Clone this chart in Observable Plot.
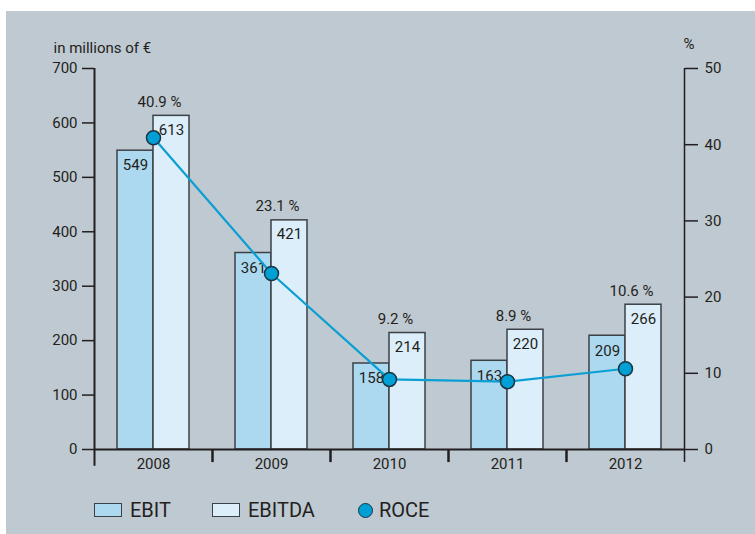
<!DOCTYPE html>
<html>
<head>
<meta charset="utf-8">
<script src="https://cdn.jsdelivr.net/npm/d3@7"></script>
<script src="https://cdn.jsdelivr.net/npm/@observablehq/plot@0.6"></script>
<style>
  html, body { margin: 0; padding: 0; background: #ffffff; }
  #wrap { position: absolute; left: 6px; top: 11px; width: 749px; height: 523px; background: #bfc9d1; font-family: Roboto, sans-serif; color: #231f20; }
  #chart { position: absolute; left: 0; top: 0; }
  .leg { position: absolute; top: 490px; height: 18px; display: flex; align-items: center; font-size: 20px; }
  .sw { width: 26px; height: 12px; border: 1.5px solid #3c4146; margin-right: 8px; }
  .dot { width: 13px; height: 13px; border-radius: 50%; background: #00a0d6; border: 1.5px solid #1b3440; margin-right: 6px; }
</style>
</head>
<body>
<div id="wrap">
  <div id="chart"></div>
  <div class="leg" style="left:88px"><div class="sw" style="background:#add9f0"></div>EBIT</div>
  <div class="leg" style="left:206px"><div class="sw" style="background:#dbeef9"></div>EBITDA</div>
  <div class="leg" style="left:352px"><div class="dot"></div>ROCE</div>
</div>
<script>
const years = ["2008", "2009", "2010", "2011", "2012"];
const ebit = [549, 361, 158, 163, 209];
const ebitda = [613, 421, 214, 220, 266];
const roce = [40.9, 23.1, 9.2, 8.9, 10.6];
const leftTicks = [0, 100, 200, 300, 400, 500, 600, 700];
const rightTicks = [0, 10, 20, 30, 40, 50];
const leftLabel = "in millions of €";
const rightLabel = "%";

const k = 700 / 50; // right-axis (percent) to left-axis (millions) conversion
const rows = years.map((year, i) => ({year, ebit: ebit[i], ebitda: ebitda[i], roce: roce[i], roceY: roce[i] * k}));
const ink = "#231f20";

const chart = Plot.plot({
  width: 749,
  height: 480,
  marginLeft: 88,
  marginRight: 71,
  marginTop: 57,
  marginBottom: 42,
  style: {fontFamily: "Roboto, sans-serif", fontSize: "15px", color: ink, background: "transparent", overflow: "visible"},
  x: {type: "band", domain: years, paddingInner: 0, paddingOuter: 0},
  y: {domain: [0, 700]},
  marks: [
    Plot.barY(rows, {x: "year", y: "ebit", fill: "#add9f0", stroke: "#3c4146", strokeWidth: 1.5, insetLeft: 23, insetRight: 59}),
    Plot.barY(rows, {x: "year", y: "ebitda", fill: "#dbeef9", stroke: "#3c4146", strokeWidth: 1.5, insetLeft: 59, insetRight: 23}),
    Plot.ruleY([0], {stroke: ink, strokeWidth: 2}),
    Plot.ruleX([years[0]], {x: d => d, dx: -59, y1: -31, y2: 700, stroke: ink, strokeWidth: 2}),
    Plot.ruleX([years[years.length - 1]], {x: d => d, dx: 59, y1: -24, y2: 700, stroke: ink, strokeWidth: 1.5}),
    Plot.ruleX(years.slice(1), {x: d => d, dx: -59, y1: 0, y2: -24, stroke: ink, strokeWidth: 2.5}),
    Plot.axisY({anchor: "left", ticks: leftTicks, tickSize: 12, tickPadding: 5, label: null, fontSize: 15, strokeWidth: 1.5}),
    Plot.axisY({anchor: "right", ticks: rightTicks.map(v => v * k), tickFormat: d => String(Math.round(d / k)), tickSize: 13, tickPadding: 7, label: null, fontSize: 15, strokeWidth: 1.5}),
    Plot.axisX({tickSize: 0, tickPadding: 9, label: null, fontSize: 15}),
    Plot.text(rows, {x: "year", y: "ebit", text: d => String(d.ebit), dx: -18, dy: 15, fill: ink, fontSize: 15}),
    Plot.text(rows, {x: "year", y: "ebitda", text: d => String(d.ebitda), dx: 18, dy: 14, fill: ink, fontSize: 15}),
    Plot.line(rows, {x: "year", y: "roceY", stroke: "#0a9fd3", strokeWidth: 2.2}),
    Plot.dot(rows, {x: "year", y: "roceY", r: 7, fill: "#00a0d6", stroke: "#1b3440", strokeWidth: 1.5}),
    Plot.text(rows, {x: "year", y: "ebitda", text: d => d.roce.toFixed(1) + " %", dx: 6, dy: -14, fill: ink, fontSize: 15}),
    Plot.text([leftLabel], {text: d => d, frameAnchor: "top-left", lineAnchor: "middle", dx: -41, dy: -20, textAnchor: "start", fill: ink, fontSize: 15}),
    Plot.text([rightLabel], {text: d => d, frameAnchor: "top-right", lineAnchor: "middle", dx: -1, dy: -24, textAnchor: "start", fill: ink, fontSize: 15})
  ]
});
document.getElementById("chart").appendChild(chart);
</script>
</body>
</html>
